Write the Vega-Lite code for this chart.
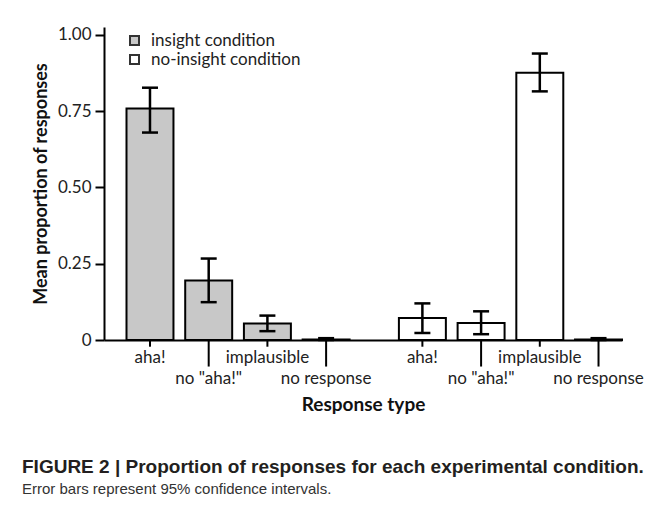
{
  "$schema": "https://vega.github.io/schema/vega-lite/v6.json",
  "width": 518,
  "height": 313,
  "autosize": {"type": "none"},
  "padding": {"left": 104, "top": 27, "right": 48, "bottom": 167},
  "background": "#ffffff",
  "config": {"font": "Lato", "view": {"stroke": null}},
  "title": {
    "text": "FIGURE 2 | Proportion of responses for each experimental condition.",
    "subtitle": "Error bars represent 95% confidence intervals.",
    "orient": "bottom",
    "anchor": "start",
    "frame": "group",
    "dx": -82,
    "offset": 44,
    "font": "Liberation Sans",
    "fontSize": 19,
    "fontWeight": "bold",
    "color": "#231f20",
    "subtitleFont": "Liberation Sans",
    "subtitleFontSize": 15,
    "subtitleColor": "#333333",
    "subtitlePadding": 5
  },
  "data": {
    "values": [
      {"condition": "insight", "response": "aha!", "value": 0.759, "lo": 0.680, "hi": 0.827, "level": 1},
      {"condition": "insight", "response": "no \"aha!\"", "value": 0.195, "lo": 0.124, "hi": 0.267, "level": 2},
      {"condition": "insight", "response": "implausible", "value": 0.054, "lo": 0.029, "hi": 0.080, "level": 1},
      {"condition": "insight", "response": "no response", "value": 0.002, "lo": 0.0, "hi": 0.006, "level": 2},
      {"condition": "no-insight", "response": "aha!", "value": 0.072, "lo": 0.023, "hi": 0.120, "level": 1},
      {"condition": "no-insight", "response": "no \"aha!\"", "value": 0.056, "lo": 0.019, "hi": 0.094, "level": 2},
      {"condition": "no-insight", "response": "implausible", "value": 0.876, "lo": 0.815, "hi": 0.939, "level": 1},
      {"condition": "no-insight", "response": "no response", "value": 0.002, "lo": 0.0, "hi": 0.006, "level": 2}
    ]
  },
  "encoding": {
    "x": {
      "field": "condition",
      "type": "nominal",
      "scale": {"domain": ["insight", "no-insight"], "paddingInner": 0.181, "paddingOuter": 0.0413, "align": 1},
      "axis": {
        "title": "Response type",
        "labels": false,
        "ticks": false,
        "domainColor": "#000000",
        "domainWidth": 2,
        "titleFont": "Lato",
        "titleFontSize": 19,
        "titleFontWeight": "bold",
        "titleColor": "#111111",
        "titlePadding": 55
      }
    },
    "xOffset": {
      "field": "response",
      "type": "nominal",
      "scale": {"domain": ["aha!", "no \"aha!\"", "implausible", "no response"], "paddingInner": 0.2, "paddingOuter": 0}
    }
  },
  "layer": [
    {
      "mark": {"type": "bar", "stroke": "#000000", "strokeWidth": 2},
      "encoding": {
        "y": {
          "field": "value",
          "type": "quantitative",
          "scale": {"domain": [0, 1.026], "nice": false, "zero": true},
          "axis": {
            "title": "Mean proportion of responses",
            "values": [0, 0.25, 0.5, 0.75, 1],
            "labelExpr": "datum.value == 0 ? '0' : format(datum.value, '.2f')",
            "grid": false,
            "tickSize": 9,
            "tickWidth": 2,
            "tickColor": "#000000",
            "domainColor": "#000000",
            "domainWidth": 2,
            "labelFont": "Lato",
            "labelFontSize": 17,
            "labelColor": "#222222",
            "labelPadding": 4,
            "titleFont": "Lato",
            "titleFontSize": 18,
            "titleFontWeight": "bold",
            "titleColor": "#111111",
            "titlePadding": 7
          }
        },
        "fill": {
          "field": "condition",
          "type": "nominal",
          "scale": {"domain": ["insight", "no-insight"], "range": ["#c8c8c8", "#ffffff"]},
          "legend": {
            "orient": "none",
            "legendX": 22,
            "legendY": 5,
            "title": null,
            "symbolType": "square",
            "symbolSize": 81,
            "symbolStrokeColor": "#333333",
            "symbolStrokeWidth": 2,
            "labelFont": "Lato",
            "labelFontSize": 17,
            "labelColor": "#222222",
            "labelExpr": "datum.label + ' condition'",
            "labelOffset": 8,
            "rowPadding": 1,
            "padding": 0
          }
        }
      }
    },
    {
      "mark": {"type": "rule", "strokeWidth": 2.5, "color": "#000000"},
      "encoding": {"y": {"field": "lo", "type": "quantitative"}, "y2": {"field": "hi"}}
    },
    {
      "mark": {"type": "tick", "thickness": 2.5, "size": 16, "color": "#000000", "opacity": 1},
      "encoding": {"y": {"field": "lo", "type": "quantitative"}}
    },
    {
      "mark": {"type": "tick", "thickness": 2.5, "size": 16, "color": "#000000", "opacity": 1},
      "encoding": {"y": {"field": "hi", "type": "quantitative"}}
    },
    {
      "transform": [{"filter": "datum.level == 1"}],
      "mark": {"type": "rule", "strokeWidth": 2, "color": "#000000"},
      "encoding": {"y": {"datum": 0}, "y2": {"datum": -0.022}}
    },
    {
      "transform": [{"filter": "datum.level == 2"}],
      "mark": {"type": "rule", "strokeWidth": 2, "color": "#000000"},
      "encoding": {"y": {"datum": 0}, "y2": {"datum": -0.087}}
    },
    {
      "transform": [{"filter": "datum.level == 1"}],
      "mark": {"type": "text", "font": "Lato", "fontSize": 17, "color": "#222222", "baseline": "middle", "dy": 18},
      "encoding": {"y": {"datum": 0}, "text": {"field": "response"}}
    },
    {
      "transform": [{"filter": "datum.level == 2"}],
      "mark": {"type": "text", "font": "Lato", "fontSize": 17, "color": "#222222", "baseline": "middle", "dy": 39},
      "encoding": {"y": {"datum": 0}, "text": {"field": "response"}}
    }
  ]
}
